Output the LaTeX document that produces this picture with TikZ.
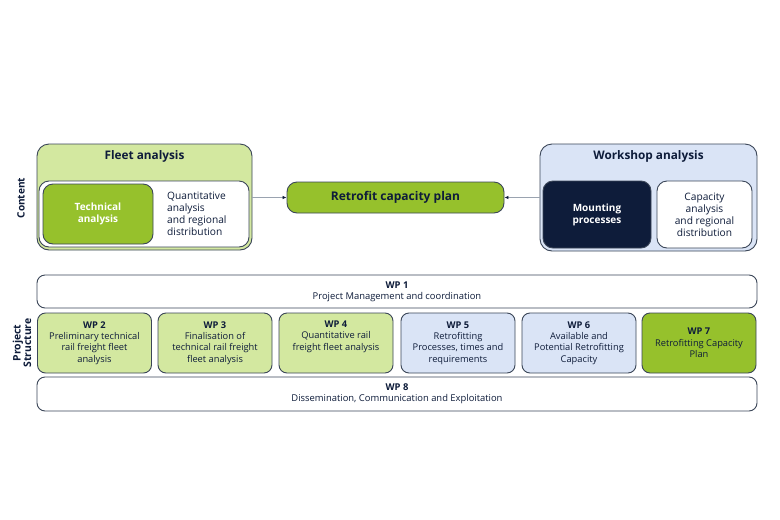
\documentclass[tikz,border=0pt]{standalone}
\usepackage{fontspec}
\setmainfont{Open Sans}
\usetikzlibrary{arrows.meta}
\definecolor{lgreen}{HTML}{D3E8A0}
\definecolor{mgreen}{HTML}{96C12C}
\definecolor{lblue}{HTML}{DAE4F6}
\definecolor{navy}{HTML}{0E1C3A}
\definecolor{edge}{HTML}{3B4658}
\definecolor{conn}{HTML}{9AA3B0}
\tikzset{
  box/.style={draw=edge, line width=0.9pt, inner sep=0pt, align=center, text=navy},
  outer/.style={box, rounded corners=12pt, fill=#1},
  inner/.style={box, rounded corners=10pt, fill=#1},
  wp/.style={box, rounded corners=8pt, fill=#1, minimum width=114pt, minimum height=60pt, font=\fontsize{9.3}{11.3}\selectfont},
  wide/.style={box, rounded corners=8pt, fill=white, minimum width=720pt, font=\fontsize{9.4}{11.3}\selectfont},
  txt/.style={font=\fontsize{10.2}{12}\selectfont, text=navy, align=left, inner sep=0pt},
  ttl/.style={font=\bfseries\fontsize{11.8}{13}\selectfont, text=navy, inner sep=0pt},
  conn/.style={draw=conn, line width=0.8pt, -{Latex[length=4pt,width=3.5pt,color=navy]}},
}
\begin{document}
\begin{tikzpicture}[x=1pt,y=-1pt]
\useasboundingbox[fill=white] (0,0) rectangle (780,520);
% Fleet analysis
\node[outer=lgreen, minimum width=215pt, minimum height=106pt] (fleet) at (144.5,197) {};
\node[ttl] (fleetT) at (144.5,156) {Fleet analysis};
\node[inner=white, minimum width=210pt, minimum height=66pt] (fleetI) at (144,214) {};
\node[inner=mgreen, minimum width=110pt, minimum height=60pt, text=white, font=\bfseries\fontsize{10}{12}\selectfont] (tech) at (98,214) {Technical\\analysis};
\node[txt, anchor=west] (quant) at (167,214) {Quantitative\\analysis\\and regional\\distribution};
% Workshop analysis
\node[outer=lblue, minimum width=217pt, minimum height=107pt] (work) at (648.5,197.5) {};
\node[ttl] (workT) at (648.5,156) {Workshop analysis};
\node[inner=navy, minimum width=108pt, minimum height=67pt, text=white, font=\bfseries\fontsize{10}{12}\selectfont] (mount) at (597,214.5) {Mounting\\processes};
\node[inner=white, minimum width=95pt, minimum height=67pt, font=\fontsize{10.2}{12}\selectfont] (cap) at (704.5,214.5) {Capacity\\analysis\\and regional\\distribution};
% Retrofit plan
\node[box, rounded corners=10pt, fill=mgreen, minimum width=217pt, minimum height=31pt, font=\bfseries\fontsize{12}{13}\selectfont] (plan) at (395.5,197.5) {Retrofit capacity plan};
\draw[conn] (fleet.east |- plan.west) -- (plan.west);
\draw[conn] (work.west |- plan.east) -- (plan.east);
% side labels
\node[rotate=90, font=\bfseries\fontsize{10.1}{11}\selectfont, text=navy, inner sep=0pt] (content) at (21,198) {Content};
\node[rotate=90, align=center, font=\bfseries\fontsize{10.4}{10.5}\selectfont, text=navy, inner sep=0pt] (pstruct) at (22,343) {Project\\Structure};
% Work packages
\node[wide, minimum height=33pt] (wp1) at (397,291.5) {\textbf{WP 1}\\Project Management and coordination};
\node[wp=lgreen] (wp2) at (94.5,343) {\textbf{WP 2}\\Preliminary technical\\rail freight fleet\\analysis};
\node[wp=lgreen] (wp3) at (215,343) {\textbf{WP 3}\\Finalisation of\\technical rail freight\\fleet analysis};
\node[wp=lgreen] (wp4) at (336,343) {\textbf{WP 4}\\Quantitative rail\\freight fleet analysis\\ \strut};
\node[wp=lblue] (wp5) at (458,343) {\textbf{WP 5}\\Retrofitting\\Processes, times and\\requirements};
\node[wp=lblue] (wp6) at (579,343) {\textbf{WP 6}\\Available and\\Potential Retrofitting\\Capacity};
\node[wp=mgreen] (wp7) at (699,343) {\textbf{WP 7}\\Retrofitting Capacity\\Plan};
\node[wide, minimum height=34pt] (wp8) at (397,394) {\textbf{WP 8}\\Dissemination, Communication and Exploitation};
\end{tikzpicture}
\end{document}
